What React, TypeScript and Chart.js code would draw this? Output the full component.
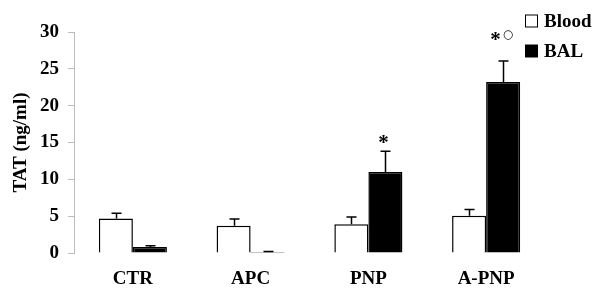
import React, { useEffect, useRef } from "react";
import { Chart, registerables } from "chart.js";

Chart.register(...registerables);

const categories = ["CTR", "APC", "PNP", "A-PNP"];
const bloodValues = [4.7, 3.7, 3.9, 5.05];
const bloodErrors = [0.7, 0.9, 1.0, 0.85];
const balValues = [0.8, 0.15, 11.0, 23.2];
const balErrors = [0.2, 0.05, 2.8, 2.85];
const balMarks = ["", "", "*", "*○"];
const balMarkHeights = [0, 0, 15.5, 29.4];
const yTicks = [0, 5, 10, 15, 20, 25, 30];

const FONT = "'Liberation Serif', 'Times New Roman', serif";

function drawCentered(ctx: any, text: string, x: number, cy: number) {
  const m = ctx.measureText(text);
  const asc = m.actualBoundingBoxAscent;
  const desc = m.actualBoundingBoxDescent;
  ctx.textBaseline = "alphabetic";
  ctx.fillText(text, x, cy + (asc - desc) / 2);
}

const errorBarPlugin = {
  id: "errorBars",
  afterDatasetsDraw(chart: any) {
    const ctx = chart.ctx;
    const y = chart.scales.y;
    const errs = [bloodErrors, balErrors];
    ctx.save();
    ctx.strokeStyle = "#000";
    ctx.lineWidth = 1.5;
    chart.data.datasets.forEach((ds: any, di: number) => {
      const meta = chart.getDatasetMeta(di);
      meta.data.forEach((bar: any, i: number) => {
        const v = ds.data[i];
        const top = y.getPixelForValue(v + errs[di][i]);
        const base = y.getPixelForValue(v);
        const x = Math.round(bar.x) + 0.5;
        ctx.beginPath();
        ctx.moveTo(x, base);
        ctx.lineTo(x, top);
        ctx.moveTo(x - 5, top);
        ctx.lineTo(x + 5, top);
        ctx.stroke();
      });
    });
    const meta = chart.getDatasetMeta(1);
    meta.data.forEach((bar: any, i: number) => {
      const m = balMarks[i];
      if (!m) return;
      const py = y.getPixelForValue(balMarkHeights[i]);
      const star = m[0];
      const rest = m.slice(1);
      ctx.fillStyle = "#000";
      ctx.textAlign = "left";
      ctx.font = `bold 21px ${FONT}`;
      const sw = ctx.measureText(star).width;
      ctx.font = `12px 'DejaVu Sans', sans-serif`;
      const rw = rest ? ctx.measureText(rest).width + 1 : 0;
      const x0 = bar.x - 2 - (sw + rw) / 2;
      ctx.font = `bold 21px ${FONT}`;
      drawCentered(ctx, star, x0, py);
      if (rest) {
        ctx.font = `12px 'DejaVu Sans', sans-serif`;
        drawCentered(ctx, rest, x0 + sw + 2, py - 1);
      }
    });
    ctx.restore();
  },
};

const legendPlugin = {
  id: "customLegend",
  afterDraw(chart: any) {
    const ctx = chart.ctx;
    ctx.save();
    ctx.font = `bold 19px ${FONT}`;
    ctx.textBaseline = "middle";
    ctx.textAlign = "left";
    chart.data.datasets.forEach((ds: any, i: number) => {
      const cy = 21 + i * 30;
      const bx = 525.5;
      ctx.fillStyle = ds.backgroundColor;
      ctx.fillRect(bx, cy - 6, 12, 12);
      ctx.strokeStyle = "#000";
      ctx.lineWidth = 1;
      ctx.strokeRect(bx, cy - 6, 12, 12);
      ctx.fillStyle = "#000";
      ctx.fillText(ds.label, 544, cy + 1);
    });
    ctx.restore();
  },
};

export default function App() {
  const ref = useRef<HTMLCanvasElement>(null);
  useEffect(() => {
    document.body.style.margin = "0";
    const chart = new Chart(ref.current!, {
      type: "bar",
      data: {
        labels: categories,
        datasets: [
          {
            label: "Blood",
            data: bloodValues,
            backgroundColor: "#ffffff",
            borderColor: "#000000",
            borderWidth: 1.5,
            categoryPercentage: 0.578,
            barPercentage: 1,
          },
          {
            label: "BAL",
            data: balValues,
            backgroundColor: "#000000",
            borderColor: "#000000",
            borderWidth: 1.5,
            categoryPercentage: 0.578,
            barPercentage: 1,
          },
        ],
      },
      options: {
        animation: false,
        responsive: false,
        layout: { padding: { top: 32, right: 55, left: 0, bottom: 0 } },
        plugins: { legend: { display: false }, tooltip: { enabled: false } },
        scales: {
          x: {
            grid: { display: false },
            border: { display: false },
            ticks: {
              color: "#000",
              font: { family: FONT, size: 19, weight: "bold" },
              padding: 7,
            },
            afterFit: (s: any) => {
              s.height = 51;
            },
          },
          y: {
            min: 0,
            max: 30,
            afterBuildTicks: (s: any) => {
              s.ticks = yTicks.map((v) => ({ value: v }));
            },
            grid: {
              drawOnChartArea: false,
              color: "#bdbdbd",
              tickLength: 6,
            },
            border: { color: "#bdbdbd", width: 1 },
            ticks: {
              color: "#000",
              font: { family: FONT, size: 19, weight: "bold" },
              padding: 9,
            },
            title: {
              display: true,
              text: "TAT (ng/ml)",
              color: "#000",
              font: { family: FONT, size: 19, weight: "bold" },
              padding: { top: 10, bottom: 4 },
            },
            afterFit: (s: any) => {
              s.width = 74;
            },
          },
        },
      },
      plugins: [errorBarPlugin, legendPlugin],
    });
    return () => chart.destroy();
  }, []);
  return <canvas ref={ref} width={600} height={304} style={{ display: "block" }} />;
}
